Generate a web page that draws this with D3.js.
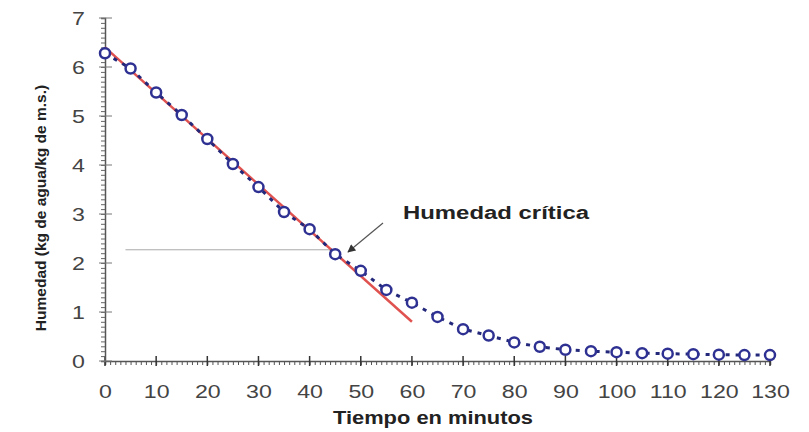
<!DOCTYPE html>
<html><head><meta charset="utf-8">
<script src="https://cdn.jsdelivr.net/npm/d3@7"></script>
<style>body{margin:0;background:#fff}svg{display:block}</style>
</head><body>
<svg id="c" width="809" height="432"></svg>
<script>
const times = [0,5,10,15,20,25,30,35,40,45,50,55,60,65,70,75,80,85,90,95,100,105,110,115,120,125,130];
const humidity = [6.28,5.97,5.48,5.02,4.53,4.02,3.55,3.04,2.69,2.18,1.84,1.45,1.19,0.9,0.65,0.52,0.38,0.29,0.23,0.2,0.18,0.16,0.15,0.14,0.13,0.12,0.12];
const fitX = [0,60];
const fitY = [6.4,0.8];
const criticalY = 2.27;
const criticalXRange = [4,45];
const xTicks = [0,10,20,30,40,50,60,70,80,90,100,110,120,130];
const yTicks = [0,1,2,3,4,5,6,7];
const xTitle = "Tiempo en minutos";
const yTitle = "Humedad (kg de agua/kg de m.s.)";
const annotation = "Humedad crítica";

const svg = d3.select("#c");
const x = d3.scaleLinear().domain([0,130]).range([105,770]);
const y = d3.scaleLinear().domain([0,7]).range([361,18]);
const axisColor = "#555";
const font = "Arial, 'Liberation Sans', sans-serif";
const stretch = 1.22;

const gx = svg.append("g").attr("transform",`translate(0,${y(0)})`);
gx.call(d3.axisBottom(x).tickValues(d3.range(0,131,1)).tickSize(4).tickFormat(""));
gx.selectAll(".tick line").attr("stroke",axisColor);
gx.select(".domain").attr("stroke",axisColor).attr("stroke-width",1.5);
const gxM = svg.append("g").attr("transform",`translate(0,${y(0)})`);
gxM.call(d3.axisBottom(x).tickValues(xTicks).tickSize(0).tickPadding(24).tickFormat(d3.format("d")));
gxM.select(".domain").remove();
gxM.selectAll("text").attr("font-size",19).attr("font-family",font).attr("fill","#444")
  .attr("transform",`scale(${stretch},1)`);
svg.append("g").selectAll("line").data(xTicks).join("line")
  .attr("x1",d=>x(d)).attr("x2",d=>x(d)).attr("y1",y(0)-5).attr("y2",y(0)+5)
  .attr("stroke","#333").attr("stroke-width",1.5);

const gy = svg.append("g").attr("transform",`translate(${x(0)},0)`);
gy.call(d3.axisLeft(y).tickValues(d3.range(0,70.5,1).map(v=>v/10)).tickSize(4).tickFormat(""));
gy.selectAll(".tick line").attr("stroke","#666");
gy.select(".domain").attr("stroke",axisColor).attr("stroke-width",1.5);
const gyM = svg.append("g").attr("transform",`translate(${x(0)-20},0)`);
gyM.call(d3.axisLeft(y).tickValues(yTicks).tickSize(0).tickPadding(0).tickFormat(d3.format("d")));
gyM.select(".domain").remove();
gyM.selectAll("text").attr("font-size",19).attr("font-family",font).attr("fill","#444")
  .attr("x",0).attr("transform",`scale(${stretch},1)`);
svg.append("g").selectAll("line").data(yTicks).join("line")
  .attr("x1",x(0)-6).attr("x2",x(0)+7).attr("y1",d=>y(d)).attr("y2",d=>y(d))
  .attr("stroke","#777").attr("stroke-width",1);

svg.append("text").attr("x",333).attr("y",424)
  .attr("textLength",200).attr("lengthAdjust","spacingAndGlyphs")
  .attr("font-size",19).attr("font-weight","bold").attr("font-family",font).attr("fill","#222").text(xTitle);
svg.append("text").attr("transform",`translate(46,208) rotate(-90)`).attr("text-anchor","middle")
  .attr("font-size",15.5).attr("font-weight","bold").attr("font-family",font).attr("fill","#222").text(yTitle);

svg.append("line").attr("x1",x(criticalXRange[0])).attr("x2",x(criticalXRange[1]))
  .attr("y1",y(criticalY)).attr("y2",y(criticalY)).attr("stroke","#aaa").attr("stroke-width",1);
svg.append("line").attr("x1",x(fitX[0])).attr("y1",y(fitY[0])).attr("x2",x(fitX[1])).attr("y2",y(fitY[1]))
  .attr("stroke","#e0524f").attr("stroke-width",2.5);
const line = d3.line().x((d,i)=>x(times[i])).y(d=>y(d));
svg.append("path").datum(humidity).attr("d",line).attr("fill","none")
  .attr("stroke","#23287a").attr("stroke-width",3).attr("stroke-dasharray","4,6");
svg.append("g").selectAll("circle").data(humidity).join("circle")
  .attr("cx",(d,i)=>x(times[i])).attr("cy",d=>y(d)).attr("r",5)
  .attr("fill","#fff").attr("stroke","#2e3192").attr("stroke-width",2.5);

svg.append("defs").append("marker").attr("id","ah").attr("viewBox","0 0 10 10")
  .attr("refX",9).attr("refY",5).attr("markerWidth",9).attr("markerHeight",8)
  .attr("markerUnits","userSpaceOnUse").attr("orient","auto")
  .append("path").attr("d","M0,0 L10,5 L0,10 Z").attr("fill","#333");
svg.append("line").attr("x1",383).attr("y1",223).attr("x2",348).attr("y2",252)
  .attr("stroke","#555").attr("stroke-width",1.2).attr("marker-end","url(#ah)");
svg.append("text").attr("x",403).attr("y",219)
  .attr("textLength",186).attr("lengthAdjust","spacingAndGlyphs")
  .attr("font-size",18).attr("font-weight","bold")
  .attr("font-family",font).attr("fill","#222").text(annotation);
</script>
</body></html>
